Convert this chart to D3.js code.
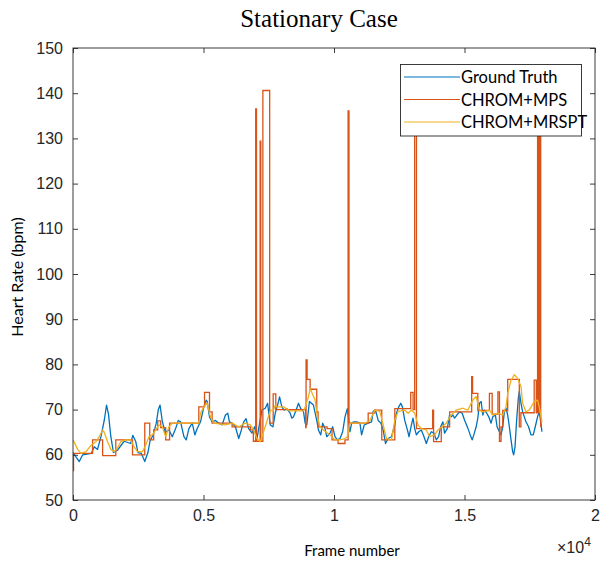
<!DOCTYPE html>
<html><head><meta charset="utf-8">
<script src="https://cdn.jsdelivr.net/npm/d3@7"></script>
<style>body{margin:0;background:#fff}svg{display:block}</style>
</head><body>
<svg id="c" width="601" height="562"></svg>
<script>
// ---- data ----
const xTicks = [0, 5000, 10000, 15000, 20000];
const xTickLabels = ["0", "0.5", "1", "1.5", "2"];
const yTicks = [50, 60, 70, 80, 90, 100, 110, 120, 130, 140, 150];
const seriesNames = ["Ground Truth", "CHROM+MPS", "CHROM+MRSPT"];

const gtFrames = [0,240,370,700,815,940,1070,1200,1285,1360,1450,1550,1700,1830,1960,2210,2290,2400,2490,2620,2750,2870,2950,3080,3190,3270,3335,3420,3525,3677,3805,3932,4033,4122,4250,4339,4440,4568,4669,4758,4886,5013,5102,5141,5229,5331,5458,5585,5713,5840,5929,5993,6095,6222,6349,6451,6540,6629,6730,6858,6959,7049,7150,7239,7367,7456,7558,7660,7749,7838,7914,8003,8092,8194,8321,8385,8448,8550,8639,8728,8830,8894,8957,9059,9212,9339,9403,9492,9568,9657,9721,9848,9950,10039,10128,10230,10332,10421,10510,10548,10612,10676,10764,10866,10993,11057,11158,11311,11439,11502,11591,11693,11795,11884,11973,12074,12202,12329,12393,12481,12558,12621,12711,12812,12876,12966,13029,13092,13156,13245,13347,13448,13538,13627,13728,13830,13920,14008,14085,14173,14237,14339,14428,14492,14555,14619,14708,14810,14912,15001,15128,15218,15294,15357,15447,15510,15573,15638,15701,15764,15853,15929,16019,16082,16184,16248,16337,16401,16464,16528,16591,16655,16718,16783,16845,16883,16936,16998,17062,17100,17165,17227,17291,17356,17455,17546,17634,17711,17799,17864,17929,17966];
const gtValues = [60.5,58.5,60,60.3,61.8,61.2,64,67.7,71,69,64,60.5,61,62,63,62.5,64.3,63,60.5,60.3,58.5,60.5,63,64.5,67,70,71,67.5,65,65.5,64,65.8,67.6,67.3,64,63.3,65.8,67,64.4,65.8,67.3,70.6,72.1,71.8,68.4,67.3,67.6,67,66.6,68.8,69.2,67.3,67,66.2,63.6,65.5,67.3,68,65.8,64.8,66.2,63.6,67,69.9,70.3,71.4,66.6,66.2,69.2,71,72.8,70.6,69.9,70.2,69.2,68.1,68.4,69.9,71.4,70.2,69.6,67,66.6,71.8,71,67.6,65.5,64.4,67,65.8,64,64.8,66.2,64,63.3,63.6,65.1,68.4,70.2,68.4,65.1,67,67.3,67.3,67,64.4,66.6,67,67.3,69.6,69.9,67.6,67,65.5,62.5,63.6,64,66.6,69.2,70.6,71.4,70.6,67.6,65.5,64,66.6,68.1,65.8,64.4,65.1,65.5,64,62.5,64,65.1,64.8,63.3,64,66.2,67.3,64.8,65.8,68.8,68.4,68.8,68.1,68.8,69.5,69.2,67.7,65.9,64.4,63.3,64.4,66.2,68.1,71.4,71.8,68.8,69.9,69.2,68.4,67,68.4,68.8,66.2,65.1,64.4,66.2,69.5,70.3,68.8,66.2,63.3,60.7,60,61.8,67.7,72.5,74,71.4,69.5,68.4,67.3,66.2,64.4,64.4,66.2,68.4,69.5,67,65.1];

const mpsFrames = [0,20,750,1135,1640,2280,2750,2940,3090,3245,3360,3550,3700,4820,5040,5230,5330,6095,6795,6910,7000,7030,7170,7195,7275,7535,7670,7770,8915,8930,8970,9085,9340,9390,9735,9925,10155,10420,10540,10575,11310,11565,11830,12330,12940,13030,13090,13160,13780,13815,14110,14430,15275,15310,15510,15955,16060,16280,16340,16400,16465,16655,17100,17160,17670,17750,17800,17845,17885,17920,17960];
const mpsValues = [56.5,60.3,63.3,59.8,63.3,60,67,63.3,65.5,67.5,66,63.3,67,70.6,73.8,69.5,67,66.2,65.5,63,136.5,63,129.4,63,140.6,67,73.5,70,66,81,76.7,74.5,69.5,66.2,65.8,63.3,62.5,63.3,136.1,67,69.2,69.9,63.3,70.2,73.8,70,142,65.8,69.9,62.9,66.2,69.5,77.3,73.6,69.8,73.6,69,73.9,63,66.2,69.8,76.7,66.2,69.3,76.5,69.3,140,69.3,140,66.3,66.3];

const mrsptFrames = [0,180,305,495,690,880,1005,1135,1195,1325,1450,1575,1705,1830,2025,2215,2340,2470,2660,2785,2910,3040,3170,3295,3425,3550,3677,3805,4820,4886,5013,5141,5267,5394,5840,6095,6349,6604,6795,6920,7049,7176,7570,7685,7749,7813,8066,8321,8830,8894,9020,9085,9150,9275,9363,9466,9593,9848,10039,10230,10421,10510,10612,10993,11184,11375,11565,11756,11884,12010,12202,12329,12455,12711,12838,12966,13092,13220,13347,13538,13665,13856,13983,14135,14300,14492,14685,14938,15128,15319,15447,15573,15701,15955,16082,16273,16464,16591,16655,16783,16909,17036,17165,17227,17356,17482,17673,17799,17864,17966];
const mrsptValues = [63.3,61.2,60.3,60.7,62.1,62.9,64,65.5,65,62.9,61.2,60.7,61.5,62.9,63.3,63.3,61.8,60.7,60.7,62.1,64,64.4,65.5,66.6,66.2,64,66.2,67,67,69.2,70.6,71.4,68.4,67,66.6,67,66.2,67,66.6,65.5,63.6,62.9,69.9,69.9,71,70.6,70.6,69.7,69.7,70.6,72.8,74.6,73.8,72.1,68.4,66.2,65.5,64.4,63.3,63.3,63.6,64,67,67,67,67.6,69.9,69.6,66.6,63.6,63.3,67.6,69.6,69.9,69.2,69.9,69.2,66.6,65.8,65.5,64,64.4,65.5,66.2,67,68.8,69.9,70.3,69.9,72.1,72.9,69.9,69.5,69.9,68.8,69.2,68.8,70.6,73.6,76.5,77.7,76.9,75.1,71.4,69.5,69.9,71.8,72.1,70.6,67.3];

// ---- drawing ----
const svg = d3.select("#c");
const L = 73, R = 595, T = 48, B = 500;
const x = d3.scaleLinear().domain([0, 20000]).range([L, R]);
const y = d3.scaleLinear().domain([50, 150]).range([B, T]);
const colors = ["#0072BD", "#D95319", "#EDB120"];
const axisColor = "#262626";

svg.append("rect").attr("width", 601).attr("height", 562).attr("fill", "#fff");

svg.append("defs").append("clipPath").attr("id", "clip")
  .append("rect").attr("x", L).attr("y", T).attr("width", R - L).attr("height", B - T);

const plot = svg.append("g").attr("clip-path", "url(#clip)");
const zip = (fs, vs) => fs.map((f, i) => [f, vs[i]]);

const lineLin = d3.line().x(d => x(d[0])).y(d => y(d[1]));
const lineStep = d3.line().x(d => x(d[0])).y(d => y(d[1])).curve(d3.curveStepAfter);

plot.append("path").datum(zip(gtFrames, gtValues)).attr("d", lineLin)
  .attr("fill", "none").attr("stroke", colors[0]).attr("stroke-width", 1.3).attr("stroke-linejoin", "round");
plot.append("path").datum(zip(mpsFrames, mpsValues)).attr("d", lineStep)
  .attr("fill", "none").attr("stroke", colors[1]).attr("stroke-width", 1.3);
plot.append("path").datum(zip(mrsptFrames, mrsptValues)).attr("d", lineLin)
  .attr("fill", "none").attr("stroke", colors[2]).attr("stroke-width", 1.3).attr("stroke-linejoin", "round");

// axes (box with inward ticks)
const font = "'Liberation Sans', Arial, sans-serif";
const ax = svg.append("g");
const xb = ax.append("g").attr("transform", `translate(0,${B})`)
  .call(d3.axisBottom(x).tickValues(xTicks).tickSize(-5).tickPadding(10).tickFormat((d, i) => xTickLabels[i]));
const xt = ax.append("g").attr("transform", `translate(0,${T})`)
  .call(d3.axisTop(x).tickValues(xTicks).tickSize(-5).tickFormat(""));
const yl = ax.append("g").attr("transform", `translate(${L},0)`)
  .call(d3.axisLeft(y).tickValues(yTicks).tickSize(-5).tickPadding(10));
const yr = ax.append("g").attr("transform", `translate(${R},0)`)
  .call(d3.axisRight(y).tickValues(yTicks).tickSize(-5).tickFormat(""));
[xb, xt, yl, yr].forEach(g => {
  g.selectAll("path").attr("stroke", axisColor).attr("stroke-width", 0.9).attr("d", null);
  g.selectAll("line").attr("stroke", axisColor).attr("stroke-width", 0.9);
  g.selectAll("text").attr("fill", axisColor).style("font-family", font).style("font-size", "16px");
});
ax.append("rect").attr("x", L).attr("y", T).attr("width", R - L).attr("height", B - T)
  .attr("fill", "none").attr("stroke", axisColor).attr("stroke-width", 0.9);

// labels
svg.append("text").attr("x", 319).attr("y", 27).attr("text-anchor", "middle")
  .style("font-family", "'Liberation Serif', 'Times New Roman', serif").style("font-size", "25px")
  .attr("fill", "#000").text("Stationary Case");

svg.append("text").attr("transform", `translate(23,277) rotate(-90)`).attr("text-anchor", "middle")
  .style("font-family", "Lato, sans-serif").style("font-size", "16px").attr("fill", "#000")
  .text("Heart Rate (bpm)");

svg.append("text").attr("x", 352).attr("y", 556).attr("text-anchor", "middle")
  .style("font-family", "Lato, sans-serif").style("font-size", "15px").attr("fill", "#000")
  .text("Frame number");

const sci = svg.append("text").attr("x", 557).attr("y", 553)
  .style("font-family", font).style("font-size", "16px").attr("fill", axisColor);
sci.append("tspan").text("\u00d710");
sci.append("tspan").attr("dy", -7).style("font-size", "12px").text("4");

// legend
const lg = svg.append("g");
lg.append("rect").attr("x", 400.5).attr("y", 64.5).attr("width", 181).attr("height", 71.5)
  .attr("fill", "#fff").attr("stroke", axisColor).attr("stroke-width", 0.9);
seriesNames.forEach((n, i) => {
  const yy = 77 + i * 22.5;
  lg.append("line").attr("x1", 404).attr("x2", 460).attr("y1", yy).attr("y2", yy)
    .attr("stroke", colors[i]).attr("stroke-width", 1.2);
  lg.append("text").attr("x", 461).attr("y", yy + 6)
    .style("font-family", "Lato, sans-serif").style("font-size", "16.5px").attr("fill", "#000").text(n);
});
</script>
</body></html>
